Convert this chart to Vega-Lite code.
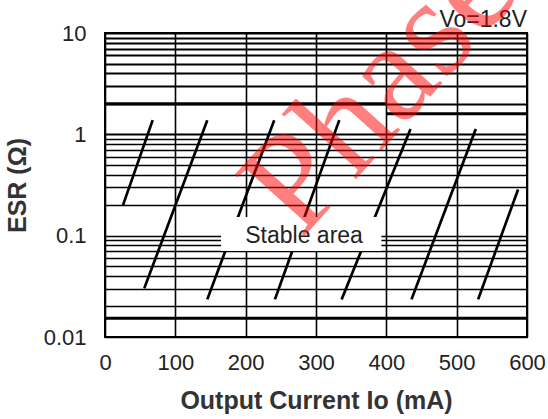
{
  "$schema": "https://vega.github.io/schema/vega-lite/v6.json",
  "width": 422,
  "height": 304,
  "autosize": "none",
  "padding": {"left": 105, "top": 33, "right": 21, "bottom": 82},
  "background": "white",
  "config": {
    "view": {"stroke": "black", "strokeWidth": 2},
    "font": "Liberation Sans"
  },
  "datasets": {
    "lines": [
      {"id": "A", "x": 25.6, "y": 0.2},
      {"id": "A", "x": 67.8, "y": 1.38},
      {"id": "B", "x": 55.8, "y": 0.0302},
      {"id": "B", "x": 145.4, "y": 1.38},
      {"id": "C", "x": 145.4, "y": 0.0235},
      {"id": "C", "x": 240.6, "y": 1.38},
      {"id": "D", "x": 241.6, "y": 0.0235},
      {"id": "D", "x": 333.1, "y": 1.38},
      {"id": "E", "x": 336.4, "y": 0.0235},
      {"id": "E", "x": 434.4, "y": 1.13},
      {"id": "F", "x": 435.8, "y": 0.0235},
      {"id": "F", "x": 527.2, "y": 1.13},
      {"id": "G", "x": 530.5, "y": 0.0235},
      {"id": "G", "x": 587.3, "y": 0.286}
    ],
    "bounds": [
      {"x": 0, "x2": 400, "y": 2},
      {"x": 400, "x2": 600, "y": 1.6},
      {"x": 0, "x2": 600, "y": 0.0153}
    ],
    "box": [
      {"x": 165, "x2": 393, "y": 0.0705, "y2": 0.153}
    ],
    "notes": [
      {"x": 283, "y": 0.099, "text": "Stable area"}
    ],
    "cond": [
      {"x": 600, "y": 10, "text": "Vo=1.8V"}
    ],
    "mark": [
      {"x": 391, "y": 2.86, "text": "Phase"}
    ]
  },
  "layer": [
    {
      "data": {"name": "lines"},
      "mark": {"type": "line", "color": "black", "strokeWidth": 2.7, "clip": true},
      "encoding": {
        "x": {
          "field": "x", "type": "quantitative",
          "scale": {"domain": [0, 600], "nice": false},
          "axis": {
            "values": [0, 100, 200, 300, 400, 500, 600],
            "title": "Output Current Io (mA)",
            "titleFont": "Liberation Sans", "titleFontSize": 25, "titleFontWeight": "bold", "titleColor": "#333",
            "titlePadding": 15,
            "labelFontSize": 22, "labelColor": "#222", "labelPadding": 15,
            "ticks": false, "tickSize": 0, "domain": false,
            "grid": true, "gridColor": "black", "gridWidth": 1.6, "gridOpacity": 1,
            "labelFlush": false, "labelOverlap": false
          }
        },
        "y": {
          "field": "y", "type": "quantitative",
          "scale": {"type": "log", "domain": [0.01, 10], "nice": false},
          "axis": {
            "values": [0.01, 0.02, 0.03, 0.04, 0.05, 0.06, 0.07, 0.08, 0.09, 0.1, 0.2, 0.3, 0.4, 0.5, 0.6, 0.7, 0.8, 0.9, 1, 2, 3, 4, 5, 6, 7, 8, 9, 10],
            "labelExpr": "datum.value == 0.01 ? '0.01' : datum.value == 0.1 ? '0.1' : datum.value == 1 ? '1' : datum.value == 10 ? '10' : ''",
            "title": "ESR (Ω)",
            "titleFont": "Liberation Sans", "titleFontSize": 25, "titleFontWeight": "bold", "titleColor": "#333",
            "titlePadding": 13,
            "labelFontSize": 22, "labelColor": "#222", "labelPadding": 19,
            "ticks": false, "tickSize": 0, "domain": false,
            "grid": true, "gridColor": "black", "gridOpacity": 1,
            "gridWidth": {"condition": {"test": "datum.value >= 1", "value": 2}, "value": 1.3},
            "labelOverlap": false, "labelBound": false, "labelFlush": false
          }
        },
        "detail": {"field": "id"}
      }
    },
    {
      "data": {"name": "bounds"},
      "mark": {"type": "rule", "color": "black", "strokeWidth": 3},
      "encoding": {
        "x": {"field": "x", "type": "quantitative"},
        "x2": {"field": "x2"},
        "y": {"field": "y", "type": "quantitative"}
      }
    },
    {
      "data": {"name": "box"},
      "mark": {"type": "rect", "fill": "white"},
      "encoding": {
        "x": {"field": "x", "type": "quantitative"},
        "x2": {"field": "x2"},
        "y": {"field": "y", "type": "quantitative"},
        "y2": {"field": "y2"}
      }
    },
    {
      "data": {"name": "notes"},
      "mark": {"type": "text", "fontSize": 23, "color": "#222", "align": "center", "baseline": "middle", "font": "Liberation Sans"},
      "encoding": {
        "x": {"field": "x", "type": "quantitative"},
        "y": {"field": "y", "type": "quantitative"},
        "text": {"field": "text"}
      }
    },
    {
      "data": {"name": "cond"},
      "mark": {"type": "text", "fontSize": 23, "color": "#222", "align": "right", "baseline": "alphabetic", "dy": -6, "font": "Liberation Sans"},
      "encoding": {
        "x": {"field": "x", "type": "quantitative"},
        "y": {"field": "y", "type": "quantitative"},
        "text": {"field": "text"}
      }
    },
    {
      "data": {"name": "mark"},
      "mark": {"type": "text", "fontSize": 142, "color": "#ff0000", "opacity": 0.5, "angle": -48, "align": "center", "baseline": "middle", "font": "Liberation Serif"},
      "encoding": {
        "x": {"field": "x", "type": "quantitative"},
        "y": {"field": "y", "type": "quantitative"},
        "text": {"field": "text"}
      }
    }
  ]
}
